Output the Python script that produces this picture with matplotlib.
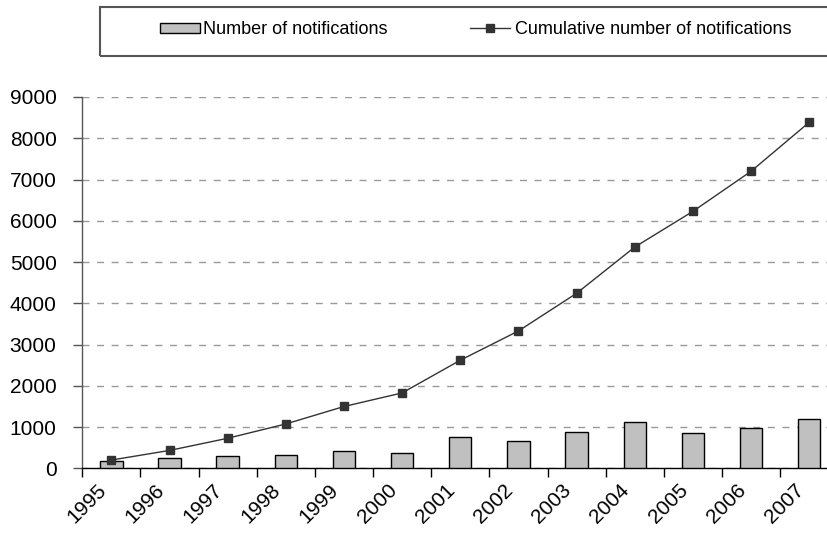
import matplotlib
matplotlib.use("Agg")
import matplotlib.pyplot as plt
import matplotlib.transforms as mtransforms
from matplotlib.patches import Rectangle, Patch
from matplotlib.lines import Line2D
import numpy as np

plt.rcParams['font.family'] = ['Liberation Sans', 'DejaVu Sans']

years = ['1995', '1996', '1997', '1998', '1999', '2000', '2001',
         '2002', '2003', '2004', '2005', '2006', '2007']
notifications = [183, 240, 303, 327, 423, 361, 760, 673, 889, 1130, 849, 976, 1185]
cumulative = [200, 433, 728, 1075, 1498, 1827, 2620, 3329, 4242, 5363, 6228, 7200, 8387]
yticks = [0, 1000, 2000, 3000, 4000, 5000, 6000, 7000, 8000, 9000]

W, H = 827, 533
fig = plt.figure(figsize=(W / 100, H / 100), dpi=100)

x0, x1 = 82.3, 838.3
ytop, ybot = 97.0, 468.3
ax = fig.add_axes([x0 / W, 1 - ybot / H, (x1 - x0) / W, (ybot - ytop) / H])

x = np.arange(len(years))
ax.bar(x, notifications, width=0.385, color='#C0C0C0', edgecolor='black',
       linewidth=1.0, zorder=3)
ax.plot(x, cumulative, color='#333333', linewidth=1.0, marker='s',
        markersize=5.6, markerfacecolor='#333333', markeredgecolor='#333333',
        zorder=4)

ax.set_xlim(-0.5, len(years) - 0.5)
ax.set_ylim(0, 9000)
ax.set_yticks(yticks)
ax.set_yticklabels([str(v) for v in yticks])

ax.yaxis.grid(True, color='#999999', linestyle=(0, (5, 5.5)), linewidth=1.0)
ax.set_axisbelow(True)

ax.set_xticks(x)
ax.set_xticklabels(years)
ax.set_xticks(np.arange(len(years) + 1) - 0.5, minor=True)
ax.tick_params(axis='x', which='major', length=0, pad=9, labelsize=15)
ax.tick_params(axis='x', which='minor', length=6.5, width=1, color='black', direction='out')
ax.tick_params(axis='y', length=6.5, width=1, color='#555555', pad=12, labelsize=15)

offset = mtransforms.ScaledTranslation(-15 / 100, 0, fig.dpi_scale_trans)
for lab in ax.get_xticklabels():
    lab.set_rotation(45)
    lab.set_ha('right')
    lab.set_va('top')
    lab.set_rotation_mode('anchor')
    lab.set_transform(lab.get_transform() + offset)

for s in ['top', 'right']:
    ax.spines[s].set_visible(False)
ax.spines['left'].set_color('#555555')
ax.spines['left'].set_linewidth(1.0)
ax.spines['bottom'].set_color('black')
ax.spines['bottom'].set_linewidth(1.0)

# legend frame
bx0, by0, bx1, by1 = 100, 7.3, 840, 56
fig.patches.append(Rectangle((bx0 / W, 1 - by1 / H), (bx1 - bx0) / W, (by1 - by0) / H,
                             transform=fig.transFigure, fill=False,
                             edgecolor='#555555', linewidth=1.5))

h1 = Patch(facecolor='#C0C0C0', edgecolor='black', linewidth=1.0)
h2 = Line2D([], [], color='#333333', linewidth=1.0, marker='s', markersize=5.6,
            markerfacecolor='#333333', markeredgecolor='#333333')
fs_leg = 13
fig.legend([h1], ['Number of notifications'], loc='center left',
           bbox_to_anchor=(160 / W, 1 - 30 / H), frameon=False,
           fontsize=fs_leg, handlelength=40 / 18.0, handleheight=9 / 18.0,
           handletextpad=3 / 18.0, borderpad=0, borderaxespad=0)
fig.legend([h2], ['Cumulative number of notifications'], loc='center left',
           bbox_to_anchor=(470 / W, 1 - 30 / H), frameon=False,
           fontsize=fs_leg, handlelength=40 / 18.0,
           handletextpad=5 / 18.0, borderpad=0, borderaxespad=0)

fig.savefig('out.png', dpi=100)
